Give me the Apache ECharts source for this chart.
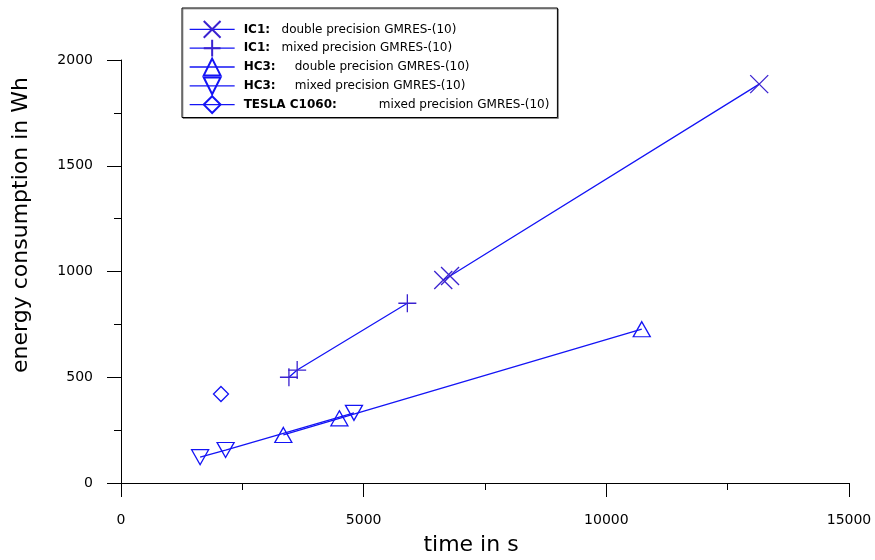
<!DOCTYPE html>
<html>
<head>
<meta charset="utf-8">
<script src="https://cdn.jsdelivr.net/npm/echarts@6/dist/echarts.min.js"></script>
<style>
  html, body { margin: 0; padding: 0; background: #fff; }
  #chart { width: 875px; height: 560px; }
</style>
</head>
<body>
<div id="chart"></div>
<script>
// data: [time in s, energy in Wh]
const ic1Double = [[13150, 1886], [6780, 979], [6640, 960]];
const ic1Mixed = [[3460, 500], [3630, 534], [5900, 850]];
const hc3Double = [[3345, 227], [4500, 306], [10730, 727]];
const hc3Mixed = [[1630, 122], [2155, 156], [4800, 332]];
const teslaMixed = [[2060, 421]];

const seriesNames = [
  '{b|IC1:}{n|   double precision GMRES-(10)}',
  '{b|IC1:}{n|   mixed precision GMRES-(10)}',
  '{b|HC3:}{n|     double precision GMRES-(10)}',
  '{b|HC3:}{n|     mixed precision GMRES-(10)}',
  '{b|TESLA C1060:}{n|           mixed precision GMRES-(10)}'
];

const blue = '#1414f5';
const purple = '#3a22d0';

const FONT = 'DejaVu Sans';

function mkSeries(name, data, symbol, size, color, showLine) {
  return {
    name: name,
    type: 'line',
    data: data,
    symbol: symbol,
    symbolSize: size,
    showAllSymbol: true,
    lineStyle: { color: showLine ? blue : 'transparent', width: 1.3 },
    itemStyle: { color: 'transparent', borderColor: color, borderWidth: 1.3 },
    emphasis: { disabled: true },
    z: 2
  };
}

const chart = echarts.init(document.getElementById('chart'));

const option = {
  animation: false,
  textStyle: { fontFamily: FONT },
  grid: { left: 121, right: 26, top: 60, bottom: 77 },
  legend: {
    orient: 'vertical',
    left: 182,
    top: 8,
    padding: [12, 8, 3.5, 7],
    itemWidth: 45,
    itemHeight: 21,
    itemGap: 0,
    borderColor: '#000',
    borderWidth: 1,
    backgroundColor: '#fff',
    shadowColor: 'rgba(0,0,0,0.35)',
    shadowOffsetX: 1,
    shadowOffsetY: 1,
    data: seriesNames.map(function (n) {
      return {
        name: n,
        lineStyle: { color: blue, width: 1.3 }
      };
    }),
    textStyle: {
      fontFamily: FONT,
      fontSize: 12,
      color: '#000',
      padding: [0, 0, 0, 4],
      rich: {
        b: { fontWeight: 'bold', fontSize: 12, fontFamily: FONT, color: '#000' },
        n: { fontSize: 12, fontFamily: FONT, color: '#000' }
      }
    }
  },
  xAxis: {
    type: 'value',
    min: 0,
    max: 15000,
    interval: 5000,
    axisLine: { show: true, onZero: false, lineStyle: { color: '#000', width: 1 } },
    axisTick: { show: true, length: 14, lineStyle: { color: '#000' } },
    minorTick: { show: true, splitNumber: 2, length: 7, lineStyle: { color: '#000' } },
    splitLine: { show: false },
    axisLabel: {
      color: '#000', fontSize: 14, fontFamily: FONT, margin: 30,
      formatter: function (v) { return String(v); }
    }
  },
  yAxis: {
    type: 'value',
    min: 0,
    max: 2000,
    interval: 500,
    axisLine: { show: true, onZero: false, lineStyle: { color: '#000', width: 1 } },
    axisTick: { show: true, length: 14, lineStyle: { color: '#000' } },
    minorTick: { show: true, splitNumber: 2, length: 7, lineStyle: { color: '#000' } },
    splitLine: { show: false },
    axisLabel: {
      color: '#000', fontSize: 14, fontFamily: FONT, margin: 28,
      formatter: function (v) { return String(v); }
    }
  },
  graphic: [
    {
      type: 'text',
      x: 471,
      y: 545,
      style: {
        text: 'time in s', fontSize: 22, fontFamily: FONT, fill: '#000',
        textAlign: 'center', textVerticalAlign: 'middle'
      }
    },
    {
      type: 'text',
      x: 21,
      y: 225,
      rotation: Math.PI / 2,
      style: {
        text: 'energy consumption in Wh', fontSize: 22, fontFamily: FONT, fill: '#000',
        textAlign: 'center', textVerticalAlign: 'middle'
      }
    }
  ],
  series: [
    mkSeries(seriesNames[0], ic1Double, 'path://M0,0L10,10M10,0L0,10', 18, purple, true),
    mkSeries(seriesNames[1], ic1Mixed, 'path://M5,0L5,10M0,5L10,5', 18, purple, true),
    mkSeries(seriesNames[2], hc3Double, 'path://M5,0L10,9L0,9Z', [17, 15], blue, true),
    mkSeries(seriesNames[3], hc3Mixed, 'path://M0,0L10,0L5,9Z', [17, 15], blue, true),
    mkSeries(seriesNames[4], teslaMixed, 'path://M5,0L10,5L5,10L0,5Z', 15, blue, true)
  ]
};

chart.setOption(option);
</script>
</body>
</html>
